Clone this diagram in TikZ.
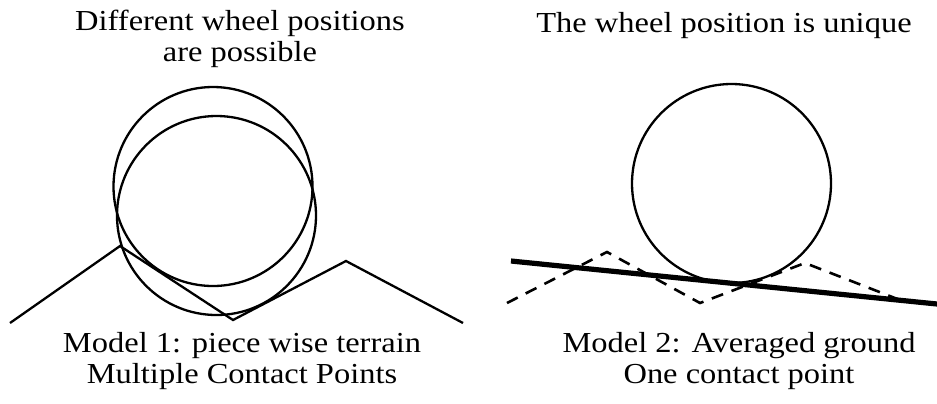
\documentclass[tikz,border=0pt]{standalone}
\usepackage{fontspec}
\setmainfont{Liberation Serif}[FakeStretch=1.12]
\usepackage{tikz}

\begin{document}
\begin{tikzpicture}[
  x=0.5pt, y=-0.5pt,
  font=\fontsize{14.5}{15.5}\selectfont,
  caption/.style={align=center, anchor=base, inner sep=0pt},
  wheel/.style={line width=1.15pt},
  terrain/.style={line width=1.15pt},
  avgground/.style={line width=2.6pt},
  rawground/.style={line width=1.3pt, dash pattern=on 6pt off 4.5pt}
]
  \useasboundingbox (0,0) rectangle (937,403);

  % model 1: two possible wheels on a piecewise terrain
  \draw[wheel] (213,186.5) circle (99.5);
  \draw[wheel] (216.5,215.5) circle (99.5);
  \draw[terrain] (10,323) -- (120,246) -- (233,320) -- (346,261) -- (463,323);

  % model 2: one wheel on the averaged ground
  \draw[rawground] (507,303) -- (607,252) -- (700,303) -- (805,263) -- (900,300);
  \draw[avgground] (511,261) -- (937,304);
  \draw[wheel] (731.5,183.5) circle (99.5);

  % captions (anchor at the baseline of the last line)
  \node[caption] (topL) at (240,61) {Different wheel positions\\are possible};
  \node[caption] (topR) at (724,32) {The wheel position is unique};
  \node[caption] (botL) at (242,383) {Model 1: piece wise terrain\\Multiple Contact Points};
  \node[caption] (botR) at (739,383) {Model 2: Averaged ground\\One contact point};
\end{tikzpicture}
\end{document}
